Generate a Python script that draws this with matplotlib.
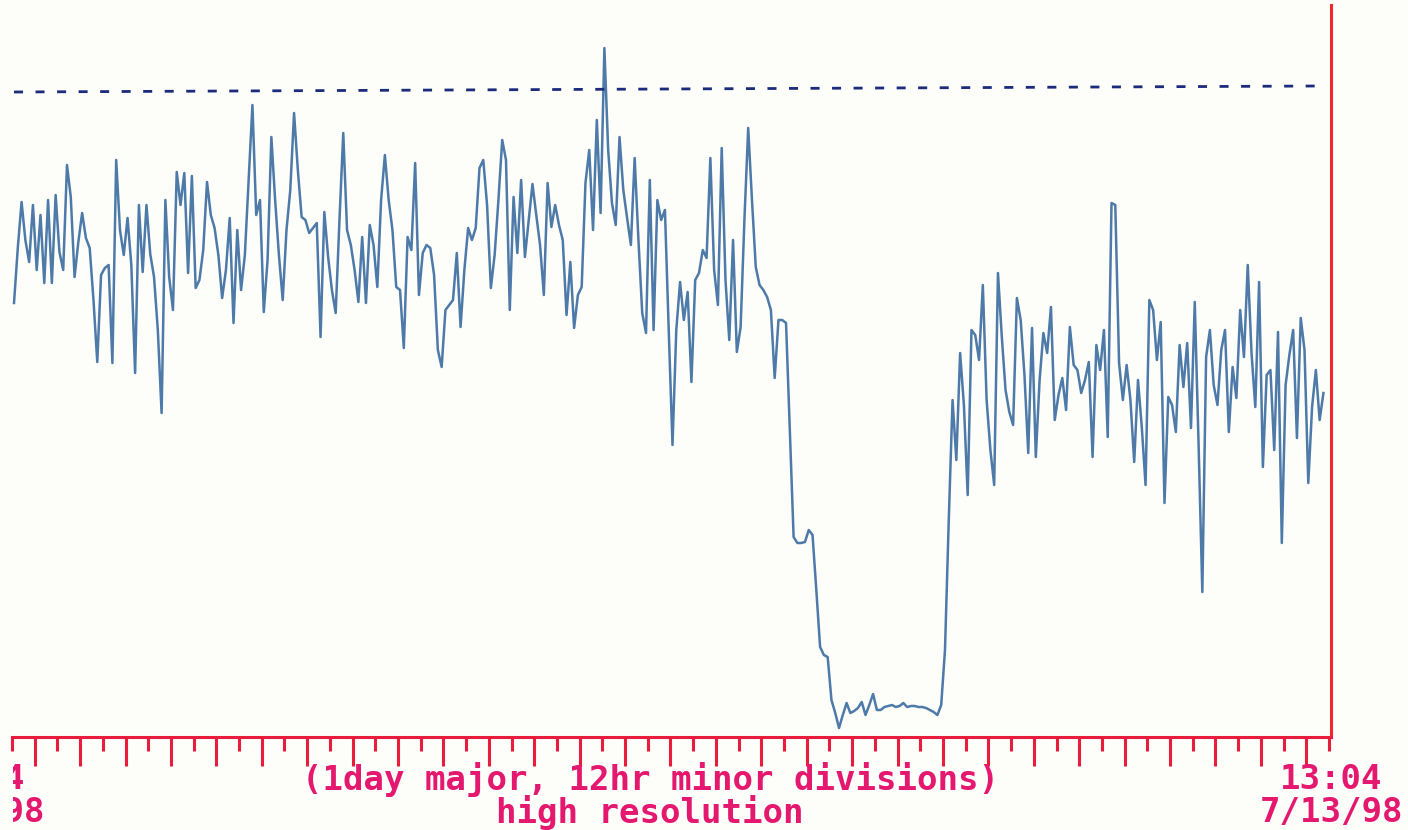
import numpy as np
import pandas as pd
import matplotlib
matplotlib.use("Agg")
import matplotlib.pyplot as plt
import matplotlib.dates as mdates
import matplotlib.transforms as mtransforms
from matplotlib.patches import Rectangle

# signal level, one reading every 2 hours (arbitrary units)
levels = [
    434, 489, 535, 497, 475, 532, 467, 522, 454, 537, 454, 542, 485, 467, 572, 540, 460, 495, 524, 499,
    489, 437, 375, 462, 469, 472, 374, 577, 507, 482, 519, 472, 364, 532, 465, 532, 483, 460, 407, 324,
    537, 460, 427, 565, 532, 564, 464, 561, 449, 457, 487, 555, 522, 509, 482, 439, 467, 519, 414, 507,
    447, 482, 557, 632, 522, 537, 425, 477, 600, 537, 482, 437, 507, 547, 624, 567, 520, 517, 504, 509,
    514, 400, 525, 480, 447, 424, 517, 604, 507, 492, 467, 435, 500, 434, 512, 492, 450, 537, 582, 537,
    507, 450, 447, 389, 500, 487, 574, 442, 484, 492, 489, 462, 387, 370, 427, 432, 437, 484, 410, 467,
    509, 497, 509, 569, 577, 532, 449, 482, 537, 597, 577, 427, 540, 484, 557, 480, 517, 553, 522, 492,
    442, 554, 510, 532, 512, 497, 422, 475, 409, 442, 450, 554, 587, 507, 617, 524, 689, 587, 534, 512,
    600, 547, 519, 492, 579, 497, 424, 404, 557, 407, 537, 517, 527, 407, 292, 407, 455, 417, 445, 355,
    457, 464, 487, 479, 579, 467, 432, 589, 457, 397, 497, 385, 410, 517, 609, 537, 470, 452, 447, 440,
    427, 359, 417, 417, 414, 307, 200, 194, 194, 195, 207, 202, 147, 90, 82, 80, 37, 24, 9, 22,
    34, 24, 26, 29, 35, 22, 32, 43, 27, 27, 30, 31, 32, 30, 31, 34, 30, 31, 31, 30,
    30, 29, 27, 25, 22, 32, 87, 217, 337, 277, 384, 332, 242, 407, 402, 377, 452, 337, 287, 252,
    464, 401, 347, 325, 312, 439, 417, 362, 284, 409, 280, 357, 404, 384, 430, 317, 342, 359, 327, 410,
    372, 367, 344, 357, 375, 280, 392, 367, 407, 300, 534, 532, 374, 337, 372, 337, 275, 357, 310, 252,
    437, 427, 377, 415, 234, 340, 332, 305, 392, 350, 394, 309, 435, 294, 145, 380, 407, 352, 332, 387,
    407, 305, 370, 339, 427, 380, 472, 384, 330, 455, 270, 362, 367, 287, 405, 194, 352, 382, 407, 299,
    419, 387, 254, 330, 367, 317, 344,
]
limit_levels = [645, 651]
limit_hours = [0, 689]

start = pd.Timestamp("1998-06-14 13:04")
end = pd.Timestamp("1998-07-13 13:04")
times = pd.date_range(start, periods=len(levels), freq="2h")
limit_times = [start + pd.Timedelta(hours=h) for h in limit_hours]

axis_red = "#e81c3c"
text_red = "#e4186e"

plt.rcParams["lines.scale_dashes"] = False
fig = plt.figure(figsize=(14.08, 8.30), dpi=100, facecolor="#fdfdf9")
ax = fig.add_axes([11.8 / 1408, 93 / 830, 1319.2 / 1408, 732 / 830])
ax.set_facecolor("none")

ax.plot(times, levels, color="#4d7aa9", lw=1.8)
ax.plot(limit_times, limit_levels, color="#1c2c7c", lw=2, dashes=(6.5, 9))

ax.set_xlim(start - pd.Timedelta(minutes=70), end)
ax.set_ylim(0, 732)

for s in ["left", "top"]:
    ax.spines[s].set_visible(False)
ax.spines["bottom"].set_color(axis_red)
ax.spines["bottom"].set_linewidth(2.2)
ax.spines["right"].set_color("#f02828")
ax.spines["right"].set_linewidth(2.2)

ax.xaxis.set_major_locator(mdates.HourLocator(byhour=0))
ax.xaxis.set_minor_locator(mdates.HourLocator(byhour=12))
ax.tick_params(axis="x", which="major", length=21, width=2.2, color=axis_red, labelbottom=False)
ax.tick_params(axis="x", which="minor", length=10, width=2.2, color=axis_red)
ax.set_yticks([])

font = dict(family="DejaVu Sans Mono", weight="bold", size=24.5, color=text_red,
            ha="center", va="center")
fig.text(650 / 1408, 51 / 830, "(1day major, 12hr minor divisions)", **font)
fig.text(650 / 1408, 18 / 830, "high resolution", **font)

# time stamps under both ends of the axis
trans = mtransforms.blended_transform_factory(ax.transData, fig.transFigure)
ax.text(end, 51 / 830, "13:04", transform=trans, clip_on=False, **font)
ax.text(end, 18 / 830, "7/13/98", transform=trans, clip_on=False, **font)
clip = Rectangle((13 / 1408, 0), 1, 1, transform=fig.transFigure)
left_x = start - pd.Timedelta(hours=21.1)
for y, s in [(51 / 830, "13:04"), (18 / 830, "6/14/98")]:
    t = ax.text(left_x, y, s, transform=trans, clip_on=True, **font)
    t.set_clip_path(clip)

plt.savefig("out.png", dpi=100, facecolor=fig.get_facecolor())
